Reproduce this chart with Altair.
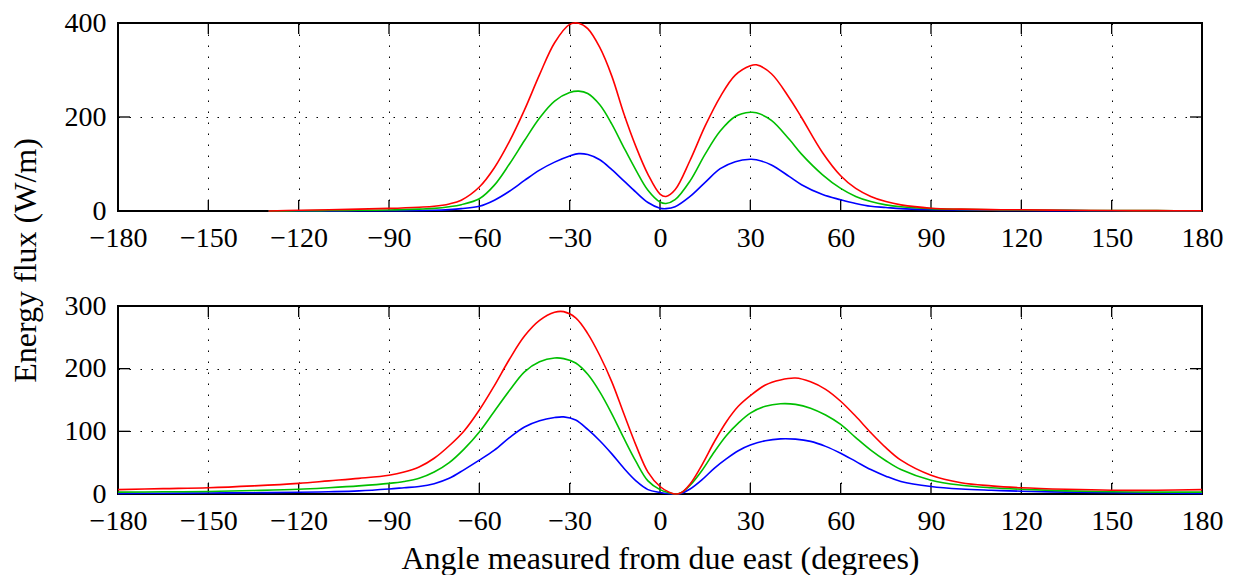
import altair as alt
import pandas as pd

# ---------------- data ----------------
angles_top = [-130, -120, -110, -100, -90, -80, -75, -70, -66, -60, -55, -50, -45, -40,
              -35, -30, -27, -24, -20, -16, -12, -8, -4, 0, 2, 5, 10, 15, 20, 25, 30,
              32, 37, 43, 47, 54, 60, 65, 70, 75, 80, 90, 100, 110, 120, 135, 150, 165, 180]
red_top = [0, 1.5, 2.5, 4, 5.5, 8, 10, 15, 23, 51, 92, 148, 215, 290,
           358, 397, 399.5, 388, 348, 287, 207, 137, 78, 36, 31, 45, 108, 181, 243, 289, 309,
           311, 292, 240, 199, 124, 75, 48, 31, 20, 13, 6, 4, 3, 2.5, 1.5, 1, 0.7, 0.5]
green_top = [0, 0.5, 1, 1.5, 2, 4, 5.5, 9, 13.5, 26, 55, 100, 150, 198,
             234, 252, 255, 250, 226, 185, 135, 87, 44, 19, 16, 24, 64, 121, 170, 201, 210,
             209, 193, 152, 121, 77, 48, 31, 20, 13, 9, 5, 3.5, 2.5, 2, 1.5, 1, 0.7, 0.5]
blue_top = [0, 0.2, 0.3, 0.4, 0.6, 1, 1.5, 3, 5, 10, 23, 42, 65, 87,
            104, 117, 122, 120, 109, 88, 64, 40, 18, 6, 5, 9, 31, 61, 90, 105, 110,
            109, 98, 73, 56, 35, 24, 16, 10, 7.5, 5, 3, 2, 1.5, 1, 0.7, 0.5, 0.4, 0.3]

angles_bot = [-180, -165, -150, -135, -120, -110, -100, -90, -85, -80, -75, -70, -65, -60,
              -55, -50, -45, -40, -35, -32, -28, -24, -20, -16, -12, -8, -4, 0, 3, 5, 7,
              10, 14, 18, 22, 26, 30, 35, 40, 45, 50, 55, 60, 65, 70, 75, 80, 90, 100,
              110, 120, 135, 150, 165, 180]
red_bot = [7, 8.5, 10, 13, 17, 21, 25, 30, 35, 43, 57, 77, 101, 134,
           173, 215, 252, 277, 290, 291, 281, 256, 221, 179, 128, 78, 35, 12, 3, 0, 2,
           16, 47, 83, 115, 140, 157, 174, 182, 185, 179, 167, 148, 124, 98, 74, 54, 30, 18,
           13, 10, 7.5, 6, 6, 7]
green_bot = [3, 3.5, 4, 5.5, 7.5, 10, 13, 17, 20, 25, 35, 50, 72, 99,
             132, 165, 195, 211, 217, 216, 209, 191, 163, 128, 89, 52, 21, 7, 2, 0, 2,
             14, 38, 67, 93, 113, 129, 140, 144, 143, 137, 126, 111, 90, 70, 53, 39, 22, 14,
             10, 7.5, 5, 3.5, 3, 3]
blue_bot = [1, 1.3, 1.6, 2.1, 2.7, 3.6, 5, 8, 10, 12, 16.5, 25, 39, 54,
            70, 90, 107, 117, 122, 123, 118, 103, 85, 64, 41, 21, 7, 2.5, 0.5, 0, 1,
            8, 23, 41, 56, 69, 78, 85, 88, 87.5, 84, 76, 65, 52, 39, 28.5, 20, 12, 8,
            6, 4.5, 3, 2, 1.5, 1]

x_ticks = list(range(-180, 181, 30))
y_ticks_top = [0, 200, 400]
y_ticks_bot = [0, 100, 200, 300]
series_names = ["s1", "s2", "s3"]
series_colors = ["#0000ff", "#00bf00", "#ff0000"]

x_title = "Angle measured from due east (degrees)"
y_title = "Energy flux (W/m)"


def long_df(angles, series_lists):
    rows = []
    for name, vals in zip(series_names, series_lists):
        for a, v in zip(angles, vals):
            rows.append({"angle": a, "value": v, "series": name})
    return pd.DataFrame(rows)


W, H = 1084, 188
FONT = "Liberation Serif, serif"
TICK_X = 11
TICK_Y = 12
GRID = dict(grid=True, gridDash=[1.5, 9.5], gridColor="black", gridOpacity=1, gridWidth=1)


def panel(df, yticks, ymax, xaxis, yaxis):
    xs = alt.Scale(domain=[-180, 180], nice=False, zero=False)
    ys = alt.Scale(domain=[0, ymax], nice=False)
    x = alt.X("angle:Q", scale=xs, axis=xaxis)
    y = alt.Y("value:Q", scale=ys, axis=yaxis)
    xt = pd.DataFrame({"angle": x_ticks})
    yt = pd.DataFrame({"value": yticks})
    rule = dict(color="black", strokeWidth=1.3)
    top_ticks = alt.Chart(xt).mark_rule(**rule).encode(x=x, y=alt.value(0), y2=alt.value(TICK_X))
    bot_ticks = alt.Chart(xt).mark_rule(**rule).encode(x=x, y=alt.value(H - TICK_X), y2=alt.value(H))
    left_ticks = alt.Chart(yt).mark_rule(**rule).encode(y=y, x=alt.value(0), x2=alt.value(TICK_Y))
    right_ticks = alt.Chart(yt).mark_rule(**rule).encode(y=y, x=alt.value(W - TICK_Y), x2=alt.value(W))
    lines = alt.Chart(df).mark_line(strokeWidth=1.6, interpolate="catmull-rom").encode(
        x=x, y=y,
        color=alt.Color("series:N", scale=alt.Scale(domain=series_names, range=series_colors), legend=None),
    )
    return alt.layer(top_ticks, bot_ticks, left_ticks, right_ticks, lines).properties(width=W, height=H)


common_x = dict(values=x_ticks, ticks=False, domain=False, labelFont=FONT, labelFontSize=28,
                labelPadding=13, labelFlush=False, labelOverlap=False, labelColor="black", **GRID)

top_x = alt.Axis(title=None, **common_x)
bot_x = alt.Axis(title=x_title, titleFont=FONT, titleFontSize=32, titleFontWeight="normal",
                 titleColor="black", titlePadding=8, **common_x)

common_y = dict(ticks=False, domain=False, labelFont=FONT, labelFontSize=28, labelPadding=12,
                labelFlush=False, labelOverlap=False, labelColor="black", **GRID)
top_y = alt.Axis(values=y_ticks_top, title=y_title, titleFont=FONT, titleFontSize=32,
                 titleFontWeight="normal", titleColor="black", titleX=-93, titleY=237,
                 titleAngle=270, titleAlign="center", titleBaseline="middle", **common_y)
bot_y = alt.Axis(values=y_ticks_bot, title=None, **common_y)

top = panel(long_df(angles_top, [blue_top, green_top, red_top]), y_ticks_top, 400, top_x, top_y)
bottom = panel(long_df(angles_bot, [blue_bot, green_bot, red_bot]), y_ticks_bot, 300, bot_x, bot_y)

chart = alt.vconcat(top, bottom, spacing=95, bounds="flush").properties(
    padding={"left": 0, "top": 0, "right": 0, "bottom": 0}
).configure(font=FONT).configure_view(stroke="black", strokeWidth=2)

chart.save("out.html", embed_options={"renderer": "svg", "actions": False})
